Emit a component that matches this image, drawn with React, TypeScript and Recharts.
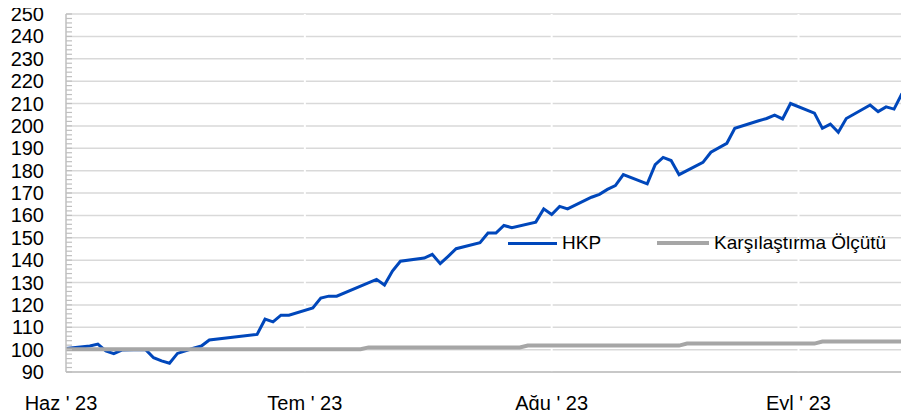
import { LineChart, Line, XAxis, YAxis, CartesianGrid, Legend } from 'recharts'

const tarihler = [
  '2023-06-01', '2023-06-04', '2023-06-05', '2023-06-06', '2023-06-07', '2023-06-08',
  '2023-06-11', '2023-06-12', '2023-06-13', '2023-06-14', '2023-06-15', '2023-06-17',
  '2023-06-18', '2023-06-19', '2023-06-25', '2023-06-26', '2023-06-27', '2023-06-28',
  '2023-06-29', '2023-07-02', '2023-07-03', '2023-07-04', '2023-07-05', '2023-07-08',
  '2023-07-09', '2023-07-10', '2023-07-11', '2023-07-12', '2023-07-13', '2023-07-16',
  '2023-07-17', '2023-07-18', '2023-07-19', '2023-07-20', '2023-07-23', '2023-07-24',
  '2023-07-25', '2023-07-26', '2023-07-27', '2023-07-28', '2023-07-29', '2023-07-30',
  '2023-07-31', '2023-08-01', '2023-08-02', '2023-08-03', '2023-08-06', '2023-08-07',
  '2023-08-08', '2023-08-09', '2023-08-10', '2023-08-13', '2023-08-14', '2023-08-15',
  '2023-08-16', '2023-08-17', '2023-08-18', '2023-08-20', '2023-08-21', '2023-08-23',
  '2023-08-24', '2023-08-27', '2023-08-28', '2023-08-29', '2023-08-30', '2023-08-31',
  '2023-09-03', '2023-09-04', '2023-09-05', '2023-09-06', '2023-09-07', '2023-09-10',
  '2023-09-11', '2023-09-12', '2023-09-13', '2023-09-14',
]

const hkp: (number | null)[] = [
  100.5, 101.6, 102.5, 99.4, 98.2, 99.8,
  100.0, 96.4, 95.0, 93.9, 98.3, 100.6,
  101.6, 104.3, 106.8, 113.6, 112.4, 115.4,
  115.4, 118.6, 123.0, 123.9, 123.9, null,
  null, 131.4, 128.9, 135.1, 139.5, 140.9,
  142.6, 138.4, 141.7, 145.1, 147.8, 152.1,
  152.1, 155.5, 154.5, null, null, 157.0,
  162.9, 160.4, 164.0, 162.9, 168.1, 169.4,
  171.6, 173.3, 178.2, 174.1, 182.7, 185.9,
  184.5, 178.2, null, 183.7, 188.2, 192.2,
  198.9, 202.3, 203.3, 204.8, 203.1, 210.0,
  205.7, 198.9, 200.8, 197.1, 203.3, 209.3,
  206.4, 208.5, 207.5, 214.5,
]

const olcut = [
  100.2, 100.2, 100.2, 100.2, 100.2, 100.2,
  100.2, 100.2, 100.2, 100.2, 100.2, 100.2,
  100.2, 100.2, 100.2, 100.2, 100.2, 100.2,
  100.2, 100.2, 100.2, 100.2, 100.2, 100.2,
  101.0, 101.0, 101.0, 101.0, 101.0, 101.0,
  101.0, 101.0, 101.0, 101.0, 101.0, 101.0,
  101.0, 101.0, 101.0, 101.0, 101.8, 101.8,
  101.8, 101.8, 101.8, 101.8, 101.8, 101.8,
  101.8, 101.8, 101.8, 101.8, 101.8, 101.8,
  101.8, 101.8, 102.7, 102.7, 102.7, 102.7,
  102.7, 102.7, 102.7, 102.7, 102.7, 102.7,
  102.7, 103.6, 103.6, 103.6, 103.6, 103.6,
  103.6, 103.6, 103.6, 103.6,
]

const ayTarihleri = ['2023-06-01', '2023-07-01', '2023-08-01', '2023-09-01']
const ayEtiketleri = ["Haz ' 23", "Tem ' 23", "Ağu ' 23", "Eyl ' 23"]
const anaDegerler = [90, 100, 110, 120, 130, 140, 150, 160, 170, 180, 190, 200, 210, 220, 230, 240, 250]

const MAVI = '#0047BB'
const GRI = '#A6A6A6'
const FONT = '"Liberation Sans", Arial, sans-serif'

const t0 = Date.parse(tarihler[0])
const gun = (d: string) => (Date.parse(d) - t0) / 864e5

const data = tarihler.map((d, i) => ({ t: gun(d), hkp: hkp[i], olcut: olcut[i] }))
const ayTikleri = ayTarihleri.map(gun)

// minor marks every 2 units on the value axis
const yTikleri: number[] = []
for (let v = 90; v <= 250; v += 2) yTikleri.push(v)

const Y_MARGIN = 22

function YTick(props: any) {
  const { x, y, payload } = props
  const ax = x + Y_MARGIN
  const v = payload.value
  return (
    <g>
      <line x1={ax} x2={ax + 6} y1={y} y2={y} stroke="#BFBFBF" strokeWidth={1.2} />
      {v % 10 === 0 && (
        <text x={x} y={y} dy="0.355em" textAnchor="end" fontSize={20} fontFamily={FONT} fill="#000">
          {v}
        </text>
      )}
    </g>
  )
}

function XTick(props: any) {
  const { x, y, payload, index } = props
  const i = ayTikleri.indexOf(payload.value)
  return (
    <text x={index === 0 ? x - 5 : x} y={y} dy="0.71em" textAnchor="middle" fontSize={20} fontFamily={FONT} fill="#000">
      {ayEtiketleri[i]}
    </text>
  )
}

function Lejant() {
  return (
    <div style={{ display: 'flex', alignItems: 'center', fontFamily: FONT, fontSize: 19, color: '#000', whiteSpace: 'nowrap' }}>
      <span style={{ display: 'inline-block', width: 49, height: 3, background: MAVI, marginRight: 5 }} />
      <span>HKP</span>
      <span style={{ display: 'inline-block', width: 52, height: 4, background: GRI, marginLeft: 56, marginRight: 5 }} />
      <span>Karşılaştırma Ölçütü</span>
    </div>
  )
}

export default function App() {
  return (
    <div style={{ width: 895, height: 418, marginTop: -8, marginBottom: -8 }}>
      <LineChart width={895} height={418} data={data} margin={{ top: 14, right: 1, bottom: 6, left: 0 }}>
        <CartesianGrid horizontal vertical={false} horizontalValues={anaDegerler} stroke="#D9D9D9" strokeWidth={1.5} />
        <CartesianGrid horizontal={false} vertical verticalValues={ayTikleri.slice(1)} stroke="#FFFFFF" strokeWidth={2} />
        <XAxis
          dataKey="t"
          type="number"
          domain={['dataMin', 'dataMax']}
          ticks={ayTikleri}
          interval={0}
          tick={<XTick />}
          tickLine={false}
          tickSize={0}
          tickMargin={24}
          height={40}
          axisLine={{ stroke: '#BFBFBF', strokeWidth: 1.5 }}
        />
        <YAxis
          type="number"
          domain={[90, 250]}
          ticks={yTikleri}
          interval={0}
          tick={<YTick />}
          tickLine={false}
          tickSize={0}
          tickMargin={Y_MARGIN}
          width={58}
          axisLine={{ stroke: '#BFBFBF', strokeWidth: 1.5 }}
        />
        <Legend
          layout="horizontal"
          verticalAlign="middle"
          align="center"
          content={<Lejant />}
          wrapperStyle={{ left: 500, top: 232, width: 'auto' }}
        />
        <Line
          type="linear"
          dataKey="hkp"
          name="HKP"
          stroke={MAVI}
          strokeWidth={3}
          dot={false}
          connectNulls
          isAnimationActive={false}
        />
        <Line
          type="linear"
          dataKey="olcut"
          name="Karşılaştırma Ölçütü"
          stroke={GRI}
          strokeWidth={4}
          dot={false}
          isAnimationActive={false}
        />
      </LineChart>
    </div>
  )
}
